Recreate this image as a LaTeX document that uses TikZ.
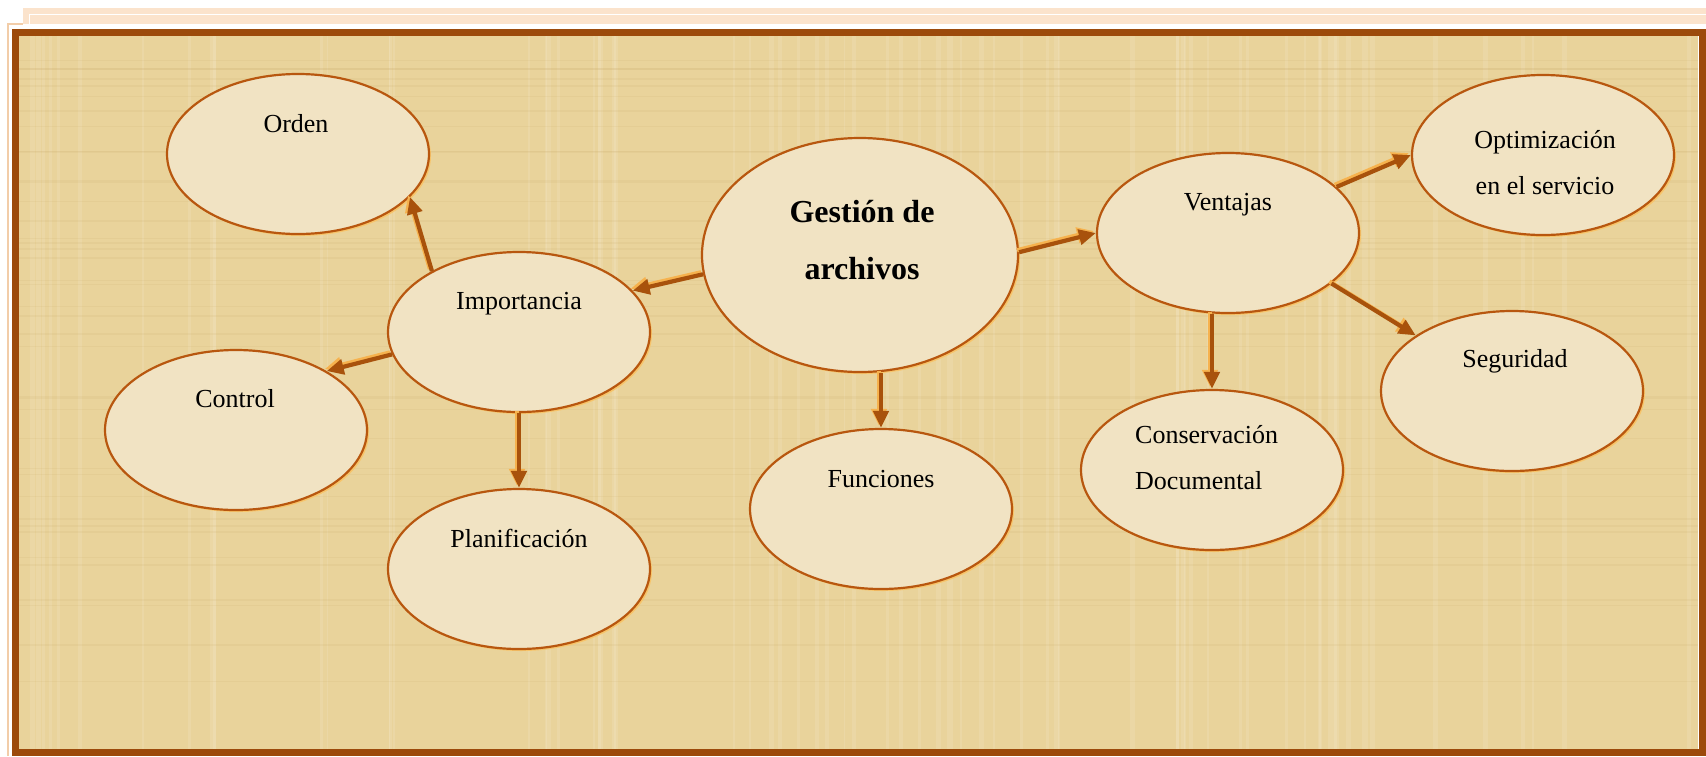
\documentclass[tikz,border=0pt]{standalone}
\usepackage{fontspec}
\setmainfont{Liberation Serif}
\usetikzlibrary{shapes.geometric,arrows.meta,shadows}

\definecolor{paper}{HTML}{E9D39B}
\definecolor{papershade}{HTML}{C9A968}
\definecolor{bubblefill}{HTML}{F1E3C3}
\definecolor{rimbrown}{HTML}{B8570F}
\definecolor{rimglow}{HTML}{F7C46A}
\definecolor{arrowbrown}{HTML}{A8520C}
\definecolor{arrowglow}{HTML}{F6B24E}
\definecolor{framebrown}{HTML}{9C4A0B}
\definecolor{peach}{HTML}{FBE3CC}
\definecolor{peachline}{HTML}{F2CDA9}

\begin{document}
\begin{tikzpicture}[x=1pt,y=-1pt,font=\fontsize{26}{46}\selectfont]
    \tikzstyle{bubble}=[ellipse,draw=rimbrown,line width=2.2pt,fill=bubblefill,minimum width=262pt,minimum height=160pt,inner sep=0pt,
        drop shadow={fill=rimglow,opacity=1,shadow xshift=2pt,shadow yshift=-2pt}]
    \tikzstyle{word}=[anchor=base,inner sep=0pt]
    \tikzstyle{link}=[line width=4.2pt,draw=arrowbrown,-{Triangle[length=17pt,width=15pt]},
        preaction={draw=arrowglow,line width=4.2pt,-{Triangle[length=17pt,width=15pt]},transform canvas={xshift=-2pt,yshift=2pt}}]

    \useasboundingbox (0,0) rectangle (1706,756);

    % page edge and frame
    \fill[peach] (23,8) rectangle (1706,24);
    \draw[white,line width=1pt] (1706,14) -- (29,14) -- (29,24);
    \draw[peachline,line width=1.5pt] (8,756) -- (8,24) -- (23,24);
    \fill[paper] (19,36) rectangle (1698,749);
    \pgfmathsetseed{21}
    \foreach \i in {1,...,70}{
        \pgfmathsetmacro{\px}{22+1670*rnd}
        \pgfmathsetmacro{\pw}{1+5*rnd}
        \fill[white,opacity=0.1] (\px,36) rectangle ++(\pw,713);
    }
    \foreach \i in {1,...,40}{
        \pgfmathsetmacro{\py}{38+706*rnd}
        \fill[papershade,opacity=0.13] (19,\py) rectangle ++(1679,1.5);
    }
    \draw[framebrown,line width=7pt] (15.5,32) rectangle (1702,752.5);

    % bubbles
    \node[bubble] (orden) at (298,154) {};
    \node[bubble] (imp) at (519,332) {};
    \node[bubble] (control) at (236,430) {};
    \node[bubble] (plan) at (519,569) {};
    \node[bubble,minimum width=316pt,minimum height=234pt] (gest) at (860,255) {};
    \node[bubble] (fun) at (881,509) {};
    \node[bubble] (vent) at (1228,233) {};
    \node[bubble] (optim) at (1543,155) {};
    \node[bubble] (seg) at (1512,391) {};
    \node[bubble] (cons) at (1212,470) {};

    % labels
    \node[word] (tOrden) at (296,132) {Orden};
    \node[word] (tImp) at (519,309) {Importancia};
    \node[word] (tControl) at (235,407) {Control};
    \node[word] (tPlan) at (519,547) {Planificación};
    \node[align=center,inner sep=0pt,font=\bfseries\fontsize{32}{57}\selectfont] (tGest) at (862,240) {Gestión de\\archivos};
    \node[word] (tFun) at (881,487) {Funciones};
    \node[word] (tVent) at (1228,210) {Ventajas};
    \node[align=center,inner sep=0pt] (tOptim) at (1545,163) {Optimización\\en el servicio};
    \node[word] (tSeg) at (1515,367) {Seguridad};
    \node[align=left,inner sep=0pt,anchor=west] (tCons) at (1135,458) {Conservación\\Documental};

    % arrows
    \draw[link] (imp.145) -- (orden.-21);
    \draw[link] (gest.-173) -- (imp.20);
    \draw[link] (imp.-170) -- (control.33);
    \draw[link] (imp.south) -- (plan.north);
    \draw[link] (fun.north |- gest.south) -- (fun.north);
    \draw[link] (gest.1) -- (vent.180);
    \draw[link] (vent.23) -- (optim.180);
    \draw[link] (vent.-26) -- (seg.150);
    \draw[link] (cons.north |- vent.south) -- (cons.north);
\end{tikzpicture}
\end{document}
